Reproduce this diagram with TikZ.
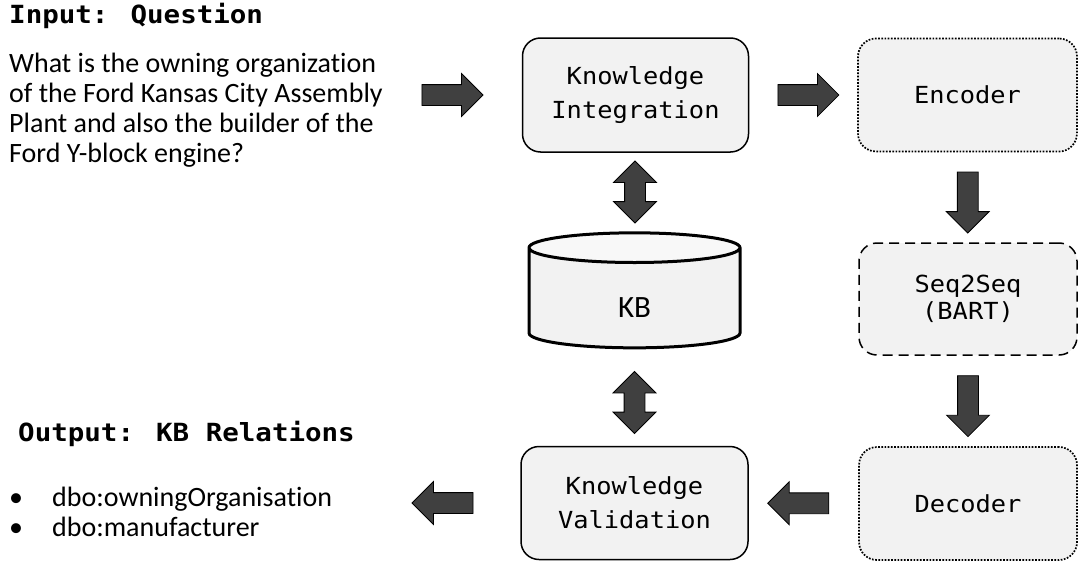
\documentclass[tikz,border=0pt]{standalone}
\usepackage{fontspec}
\setmainfont{Carlito}[Ligatures=NoCommon]
\newfontfamily\codefont[FakeStretch=1.08]{DejaVu Sans Mono}
\newfontfamily\headfont[FakeStretch=1.1]{DejaVu Sans Mono Bold}
\usetikzlibrary{shapes.geometric,shapes.arrows,calc}
\definecolor{boxgray}{HTML}{F2F2F2}
\definecolor{capgray}{HTML}{F8F8F8}
\definecolor{arrowgray}{HTML}{404040}

\begin{document}
\begin{tikzpicture}[x=1pt,y=-1pt,
    module/.style={draw, rounded corners=18pt, fill=boxgray, line width=1.5pt, align=center, inner sep=0pt,
      font=\codefont\fontsize{23.5}{34}\selectfont},
    dotline/.style={line width=1.7pt, dash pattern=on 1.7pt off 1.5pt},
    dashline/.style={dash pattern=on 10pt off 6pt},
    flow/.style={single arrow, draw=black, fill=arrowgray, line width=0.8pt, single arrow head extend=11pt,
      inner xsep=0pt, inner ysep=10pt, minimum height=61pt},
    link/.style={double arrow, draw=black, fill=arrowgray, line width=0.8pt, double arrow head extend=11pt,
      inner xsep=0pt, inner ysep=10pt, minimum height=62pt, rotate=90},
    heading/.style={anchor=base west, inner sep=0pt, font=\headfont\fontsize{25}{30}\selectfont},
    plain/.style={anchor=north west, inner sep=0pt, align=left, font=\fontsize{28}{30}\selectfont}]
    \useasboundingbox (0,0) rectangle (1079,562);

    \node[heading] (inhead) at (9,23.5) {Input: Question};
    \node[plain] (q) at (9,53) {What is the owning organization\\of the Ford Kansas City Assembly\\Plant and also the builder of the\\Ford Y-block engine?};
    \node[heading] (outhead) at (18,441) {Output: KB Relations};
    \node[plain] (rel) at (9,487) {\makebox[43pt][l]{\textbullet}dbo:owningOrganisation\\\makebox[43pt][l]{\textbullet}dbo:manufacturer};

    \node[module, minimum width=226pt, minimum height=114pt] (ki) at (635.5,95) {Knowledge\\Integration};
    \node[module, dotline, minimum width=219pt, minimum height=113pt] (enc) at (967.5,95) {Encoder};
    \node[module, dashline, minimum width=218pt, minimum height=112pt, font=\codefont\fontsize{23.5}{27}\selectfont] (seq) at (968,299) {Seq2Seq\\(BART)};
    \node[module, dotline, minimum width=218pt, minimum height=113pt] (dec) at (968,503.5) {Decoder};
    \node[module, minimum width=227pt, minimum height=113pt] (kv) at (634.5,503) {Knowledge\\Validation};
    \node[cylinder, shape border rotate=90, aspect=0.9, draw, line width=3pt, minimum width=211pt, minimum height=115pt,
      cylinder uses custom fill, cylinder body fill=boxgray, cylinder end fill=capgray, inner sep=0pt,
      text height=38pt, text depth=0pt, font=\fontsize{31}{31}\selectfont] (kb) at (634.5,298.5) {KB};

    \node[flow] (qin) at ($(ki.west)+(-74.5,0)$) {};
    \node[flow] (kienc) at ($(ki.east)!.5!(enc.west)$) {};
    \node[flow, rotate=-90] (encseq) at ($(enc.south)!.5!(seq.north)$) {};
    \node[flow, rotate=-90] (seqdec) at ($(seq.south)!.5!(dec.north)$) {};
    \node[flow, rotate=180] (deckv) at ($(dec.west)!.5!(kv.east)$) {};
    \node[flow, rotate=180] (kvout) at ($(kv.west)+(-72.5,0)$) {};
    \node[link] (kikb) at ($(ki.south)!.5!(kb.north)$) {};
    \node[link] (kbkv) at ($(kb.south)!.5!(kv.north)+(0,5)$) {};
\end{tikzpicture}
\end{document}
